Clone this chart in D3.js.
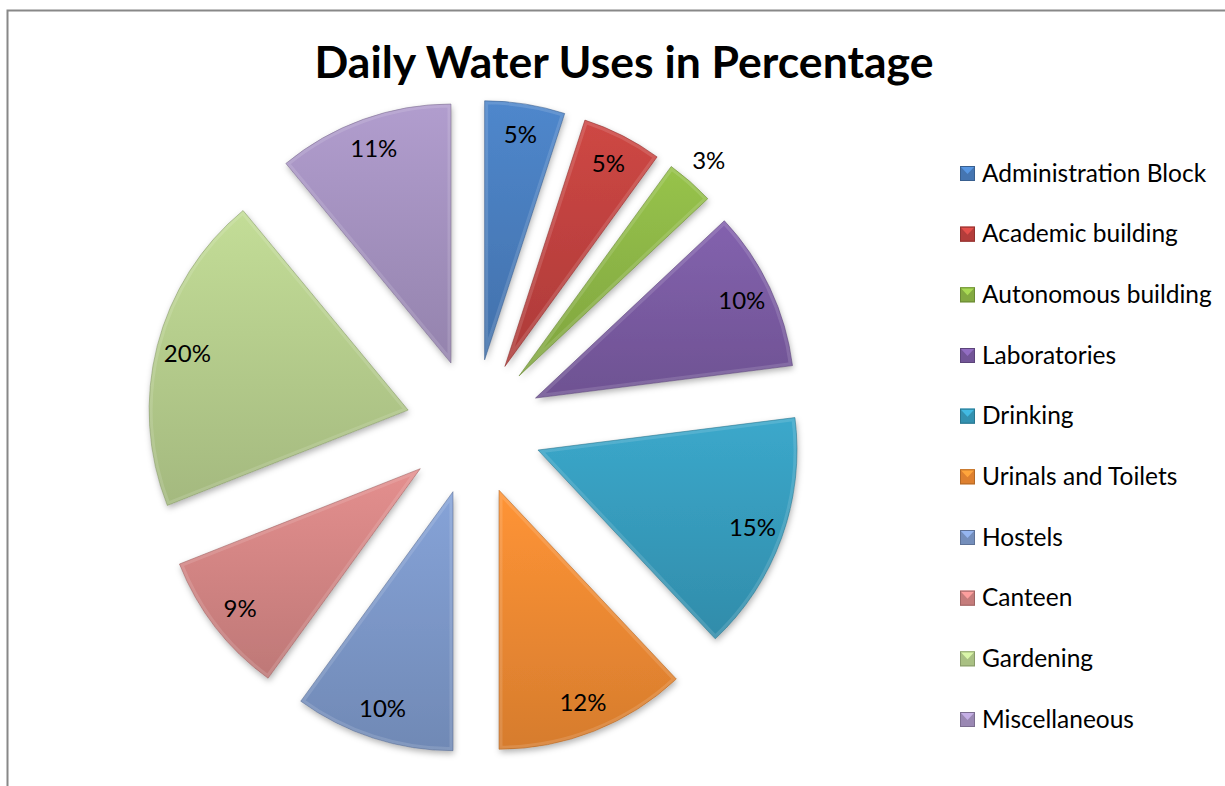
<!DOCTYPE html>
<html>
<head>
<meta charset="utf-8">
<title>Daily Water Uses in Percentage</title>
<script src="https://cdn.jsdelivr.net/npm/d3@7"></script>
<style>
  body { margin: 0; background: #fff; }
  svg { display: block; font-family: Lato, "Open Sans", sans-serif; }
</style>
</head>
<body>
<script>
const categories = ["Administration Block", "Academic building", "Autonomous building", "Laboratories",
  "Drinking", "Urinals and Toilets", "Hostels", "Canteen", "Gardening", "Miscellaneous"];
const shares = [5, 5, 3, 10, 15, 12, 10, 9, 20, 11];
const colors = ["#4A7EBE", "#C0423F", "#8DB646", "#7A5BA2", "#379CBD",
  "#EE8A32", "#7D98C9", "#D48584", "#B6CE8D", "#A592C0"];

const W = 1225, H = 786;
const cx = 474, cy = 427, r = 259, explode = 68;

const svg = d3.select("body").append("svg")
  .attr("width", W).attr("height", H);

const defs = svg.append("defs");
const shadow = defs.append("filter").attr("id", "shadow")
  .attr("x", "-20%").attr("y", "-20%").attr("width", "140%").attr("height", "140%");
shadow.append("feDropShadow").attr("dx", 1).attr("dy", 3)
  .attr("stdDeviation", 3).attr("flood-color", "#000").attr("flood-opacity", 0.3);

// chart frame (only top and left edges are in view)
svg.append("rect")
  .attr("x", 7.5).attr("y", 10.5).attr("width", W + 20).attr("height", H + 20)
  .attr("fill", "none").attr("stroke", "#888").attr("stroke-width", 2);

svg.append("text")
  .attr("x", 624).attr("y", 78)
  .attr("text-anchor", "middle")
  .attr("font-weight", "bold").attr("font-size", 44.5)
  .text("Daily Water Uses in Percentage");

const pie = d3.pie().sort(null).value(d => d);
const arcs = pie(shares);
const arc = d3.arc().innerRadius(0).outerRadius(r);
const labelArcIn = d3.arc().innerRadius(r * 0.88).outerRadius(r * 0.88);
const labelArcOut = d3.arc().innerRadius(r + 28).outerRadius(r + 28);

function offset(a, dist) {
  const m = (a.startAngle + a.endAngle) / 2;
  return [Math.sin(m) * dist, -Math.cos(m) * dist];
}

arcs.forEach((a, i) => {
  const g = defs.append("linearGradient").attr("id", "grad" + i)
    .attr("x1", 0).attr("y1", 0).attr("x2", 0).attr("y2", 1);
  const c = d3.color(colors[i]);
  g.append("stop").attr("offset", "0%").attr("stop-color", c.brighter(0.2));
  g.append("stop").attr("offset", "100%").attr("stop-color", c.darker(0.3));
  defs.append("clipPath").attr("id", "clip" + i)
    .append("path").attr("d", arc(a));
});

const pieG = svg.append("g").attr("transform", `translate(${cx},${cy})`);

const slices = pieG.selectAll("g.slice")
  .data(arcs)
  .enter().append("g")
  .attr("class", "slice")
  .attr("transform", d => `translate(${offset(d, explode)})`);

slices.append("path")
  .attr("d", arc)
  .attr("fill", (d, i) => `url(#grad${i})`)
  .attr("filter", "url(#shadow)");

// bevel: soft light band just inside the edge
slices.append("path")
  .attr("d", arc)
  .attr("clip-path", (d, i) => `url(#clip${i})`)
  .attr("fill", "none")
  .attr("stroke", "#fff").attr("stroke-opacity", 0.13)
  .attr("stroke-width", 7)
  .attr("stroke-linejoin", "round");

slices.append("path")
  .attr("d", arc)
  .attr("fill", "none")
  .attr("stroke", (d, i) => d3.color(colors[i]).darker(0.9))
  .attr("stroke-opacity", 0.55)
  .attr("stroke-width", 1);

slices.append("text")
  .attr("transform", d => `translate(${(d.data < 4 ? labelArcOut : labelArcIn).centroid(d)})`)
  .attr("text-anchor", "middle")
  .attr("dy", "0.35em")
  .attr("font-size", 24)
  .attr("fill", "#000")
  .text(d => d.data + "%");

// legend
const ly = d3.scalePoint().domain(categories).range([173, 719]);
const legend = svg.append("g");
const rows = legend.selectAll("g").data(categories).enter().append("g")
  .attr("transform", d => `translate(960,${ly(d)})`);

rows.each(function(d, i) {
  const c = d3.color(colors[i]);
  const row = d3.select(this);
  row.append("rect").attr("x", 0).attr("y", -7).attr("width", 15).attr("height", 15)
    .attr("fill", c.darker(0.2));
  row.append("path").attr("d", "M0,-7L15,-7L7.5,1Z").attr("fill", c.brighter(0.5));
  row.append("rect").attr("x", 0.5).attr("y", -6.5).attr("width", 14).attr("height", 14)
    .attr("fill", "none").attr("stroke", c.darker(0.8)).attr("stroke-width", 1);
  row.append("text")
    .attr("x", 22).attr("y", 0).attr("dy", "0.35em")
    .attr("font-size", 24.5)
    .attr("fill", "#000")
    .text(d);
});
</script>
</body>
</html>
